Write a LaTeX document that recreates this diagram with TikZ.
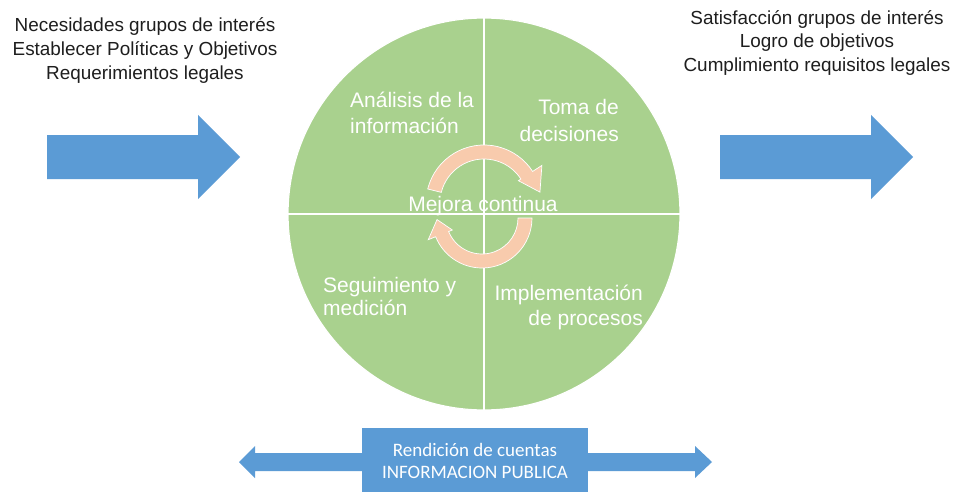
\documentclass[tikz,border=0pt]{standalone}
\usepackage{fontspec}
\setmainfont{Liberation Sans}
\newfontfamily\carlitofont{Carlito}
\definecolor{pgreen}{HTML}{A9D18E}
\definecolor{pblue}{HTML}{5B9BD5}
\definecolor{ppeach}{HTML}{F8CBAD}
\definecolor{ptext}{HTML}{1E1E1E}
\begin{document}
\begin{tikzpicture}[x=1pt,y=1pt,
  outtext/.style={inner sep=0pt, anchor=base, text=ptext, font=\fontsize{18.9}{24}\selectfont},
  intext/.style={inner sep=0pt, text=white, font=\fontsize{21}{25}\selectfont},
  boxtext/.style={inner sep=0pt, anchor=base, text=white, font=\carlitofont\fontsize{19}{22}\selectfont},
  bigarrow/.style={fill=pblue, draw=none},
  cyclearrow/.style={fill=ppeach, draw=white, line width=0.7pt},
  divider/.style={draw=white, line width=1.3pt}]
\useasboundingbox (0,0) rectangle (955,491);
\fill[white] (0,0) rectangle (955,491);

% main circle
\node[circle, fill=pgreen, draw=white, line width=1.2pt, inner sep=0pt, minimum size=392pt] (c) at (484,277) {};
\draw[divider] (c.north) -- (c.south);
\draw[divider] (c.west) -- (c.east);

% input / output arrows
\fill[bigarrow] (47,356) -- (198,356) -- (198,376) -- (240,334) -- (198,292) -- (198,312) -- (47,312) -- cycle;
\fill[bigarrow] (720,356) -- (871,356) -- (871,376) -- (913,334) -- (871,292) -- (871,312) -- (720,312) -- cycle;

% cycle arrows
\coordinate (c1) at (484,288);
\coordinate (c2) at (482,273);
\filldraw[cyclearrow] ([shift={(166:58pt)}]c1) arc[start angle=166, end angle=33, radius=58pt]
  -- ([shift={(33:69pt)}]c1) -- ([shift={(11:57pt)}]c1) -- ([shift={(33:41pt)}]c1)
  -- ([shift={(33:44pt)}]c1) arc[start angle=33, end angle=166, radius=44pt] -- cycle;
\filldraw[cyclearrow] ([shift={(0:50pt)}]c2) arc[start angle=0, end angle=-158, radius=50pt]
  -- ([shift={(-158:58pt)}]c2) -- ([shift={(-178:45pt)}]c2) -- ([shift={(-158:32pt)}]c2)
  -- ([shift={(-158:36pt)}]c2) arc[start angle=-158, end angle=0, radius=36pt] -- cycle;

% texts outside
\node[outtext] (in1) at (145,459) {Necesidades grupos de interés};
\node[outtext] (in2) at (145,435) {Establecer Políticas y Objetivos};
\node[outtext] (in3) at (145,411) {Requerimientos legales};
\node[outtext] (out1) at (817,466) {Satisfacción grupos de interés};
\node[outtext] (out2) at (817,443) {Logro de objetivos};
\node[outtext] (out3) at (817,419) {Cumplimiento requisitos legales};

% texts inside circle
\node[intext, anchor=base west] (q1a) at (350,383) {Análisis de la};
\node[intext, anchor=base west] (q1b) at (350,358) {información};
\node[intext, anchor=base east] (q2a) at (619,376) {Toma de};
\node[intext, anchor=base east] (q2b) at (619,350) {decisiones};
\node[intext, anchor=base west] (q3a) at (323,199) {Seguimiento y};
\node[intext, anchor=base west] (q3b) at (323,176) {medición};
\node[intext, anchor=base east] (q4a) at (643,191) {Implementación};
\node[intext, anchor=base east] (q4b) at (643,166) {de procesos};
\node[intext, anchor=base] (mc) at (483,280) {Mejora continua};

% bottom double arrow and box
\fill[bigarrow] (239,29) -- (255,45) -- (255,38) -- (695,38) -- (695,45) -- (712,29)
  -- (695,13) -- (695,20) -- (255,20) -- (255,13) -- cycle;
\node[fill=pblue, inner sep=0pt, minimum width=226pt, minimum height=66pt] (box) at (475,30) {};
\node[boxtext] (b1) at (475,35) {Rendición de cuentas};
\node[boxtext] (b2) at (475,13) {INFORMACION PUBLICA};
\end{tikzpicture}
\end{document}
